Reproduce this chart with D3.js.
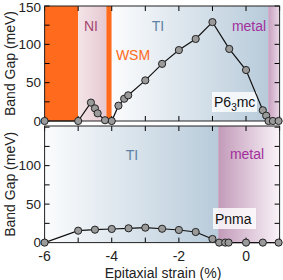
<!DOCTYPE html>
<html><head><meta charset="utf-8">
<script src="https://cdn.jsdelivr.net/npm/d3@7"></script>
<style>body{margin:0;background:#fff}svg{display:block}text{font-family:"Liberation Sans",Arial,sans-serif}</style>
</head><body><svg id="c" width="283" height="280"></svg>
<script>
// data
const topStrain = [-6, -5, -4.62, -4.5, -4.42, -4.2, -4.0, -3.8, -3.63, -3.51, -3.0, -2.5, -2.0, -1.5, -1.0, -0.5, 0.0, 0.5, 0.6, 0.67, 0.8, 0.97];
const topGap    = [0, 0, 24, 16.5, 10, 1, 0, 20, 29, 33.5, 53, 74.5, 92.5, 107, 129, 94, 66.5, 14, 7, 0, 0, 0];
const botStrain = [-6, -5, -4.5, -4.0, -3.5, -3.0, -2.5, -2.0, -1.5, -1.0, -0.8, -0.62, -0.52, 0.0, 0.5, 0.97];
const botGap    = [0, 15.5, 16.8, 17.7, 18.6, 19.4, 18, 16.4, 13.8, 4.7, 0, 0, 0, 0, 0, 0];
const xTicks = [-6, -4, -2, 0];
const yTicksTop = [0, 50, 100, 150];
const yTicksBot = [0, 50, 100];
// phase regions [start, end]
const topRegions = {orange1: [-6, -5], NI: [-5, -4.16], orange2: [-4.16, -4.0], TI: [-4.0, 0.66], metal: [0.66, 1]};
const botRegions = {TI: [-6, -0.83], metal: [-0.83, 1]};

const svg = d3.select("#c");
const x = d3.scaleLinear().domain([-6, 1]).range([44.6, 279.6]);
const defs = svg.append("defs");
function grad(id, c1, c2){
  const g = defs.append("linearGradient").attr("id", id).attr("x1","0%").attr("x2","100%").attr("y1","0%").attr("y2","0%");
  g.append("stop").attr("offset","0%").attr("stop-color",c1);
  g.append("stop").attr("offset","100%").attr("stop-color",c2);
}
grad("gTI","#fbfcfd","#b8cbda");
grad("gNI","#f3e4e8","#e6c9d2");
grad("gMetalT","#c79fbf","#e9d9e7");
grad("gMetalB","#c29ab9","#f9f3f8");

function panel(y0, y1, ymax, yTicks, regions, fills, sx, sy, labels, box){
  const y = d3.scaleLinear().domain([0, ymax]).range([y1, y0]);
  const g = svg.append("g");
  for (const k in regions){
    const [a,b] = regions[k];
    g.append("rect").attr("x", x(a)).attr("y", y0).attr("width", x(b)-x(a)).attr("height", y1-y0).attr("fill", fills[k]);
  }
  const tk = g.append("g").attr("stroke","#000").attr("stroke-width",1);
  d3.range(-6, 2, 1).forEach(v=>{
    tk.append("line").attr("x1",x(v)).attr("x2",x(v)).attr("y1",y1).attr("y2",y1-5);
    tk.append("line").attr("x1",x(v)).attr("x2",x(v)).attr("y1",y0).attr("y2",y0+5);
  });
  d3.range(0, ymax+0.1, 25).forEach(v=>{
    tk.append("line").attr("x1",x(-6)).attr("x2",x(-6)+5).attr("y1",y(v)).attr("y2",y(v));
    tk.append("line").attr("x1",x(1)).attr("x2",x(1)-5).attr("y1",y(v)).attr("y2",y(v));
  });
  g.append("rect").attr("x",x(-6)).attr("y",y0).attr("width",x(1)-x(-6)).attr("height",y1-y0).attr("fill","none").attr("stroke","#222").attr("stroke-width",1);
  yTicks.forEach(v=>{
    g.append("text").attr("x",41).attr("y",Math.max(y(v)+4.5, 11.5)).attr("text-anchor","end").attr("font-size",13.5).attr("fill","#222").text(v);
  });
  g.append("text").attr("transform",`translate(15,${(y0+y1)/2}) rotate(-90)`).attr("text-anchor","middle").attr("font-size",14).attr("fill","#222").text("Band Gap (meV)");
  labels.forEach(l=>{
    g.append("text").attr("x",l.x).attr("y",l.y).attr("text-anchor","middle").attr("font-size",14).attr("fill",l.c).text(l.t);
  });
  g.append("rect").attr("x",box.x).attr("y",box.y).attr("width",box.w).attr("height",box.h).attr("fill","#fff").attr("fill-opacity",0.8);
  const t = g.append("text").attr("x",box.x+2).attr("y",box.y+box.h-5).attr("font-size",14).attr("fill","#111");
  box.parts.forEach(p=>{
    const s = t.append("tspan").text(p.t);
    if (p.sub) s.attr("font-size",10).attr("dy",4); else if (p.after) s.attr("dy",-4);
  });
  const line = d3.line().x(d=>x(d[0])).y(d=>y(d[1]));
  const data = sx.map((v,i)=>[v, sy[i]]);
  g.append("path").attr("d", line(data)).attr("fill","none").attr("stroke","#111").attr("stroke-width",1.2);
  g.selectAll(null).data(data).enter().append("circle").attr("cx",d=>x(d[0])).attr("cy",d=>y(d[1])).attr("r",3.6).attr("fill","#9a9a9a").attr("stroke","#222").attr("stroke-width",1);
  return y;
}

panel(6, 121, 150, yTicksTop, topRegions, {orange1:"#ff6a1c", NI:"url(#gNI)", orange2:"#ff6a1c", TI:"url(#gTI)", metal:"url(#gMetalT)"}, topStrain, topGap,
  [{t:"NI",x:91,y:31,c:"#a5466f"},{t:"WSM",x:133,y:60,c:"#ff6a1c"},{t:"TI",x:158,y:31,c:"#5d82a3"},{t:"metal",x:249,y:31,c:"#a2309c"}],
  {x:212, y:92, w:45, h:20, parts:[{t:"P6"},{t:"3",sub:true},{t:"mc",after:true}]});

panel(126, 242.6, 151.5, yTicksBot, botRegions, {TI:"url(#gTI)", metal:"url(#gMetalB)"}, botStrain, botGap,
  [{t:"TI",x:132,y:160,c:"#5d82a3"},{t:"metal",x:247,y:159,c:"#a2309c"}],
  {x:213, y:208, w:43, h:21, parts:[{t:"Pnma"}]});

xTicks.forEach(v=>{
  svg.append("text").attr("x",x(v)).attr("y",261).attr("text-anchor","middle").attr("font-size",14).attr("fill","#222").text(v);
});
svg.append("text").attr("x",163).attr("y",277.5).attr("text-anchor","middle").attr("font-size",14).attr("fill","#222").text("Epitaxial strain (%)");
</script></body></html>
